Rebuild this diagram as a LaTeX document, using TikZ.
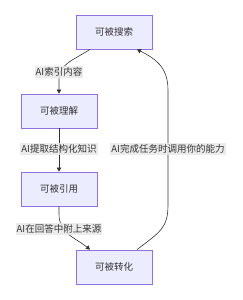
\documentclass[tikz,border=0pt]{standalone}
\usepackage{fontspec}
\setmainfont{Noto Sans CJK SC}
\usetikzlibrary{arrows.meta,calc}
\definecolor{boxfill}{HTML}{ECECFF}
\definecolor{boxline}{HTML}{9370DB}
\definecolor{txt}{HTML}{333333}
\definecolor{lblbg}{HTML}{E8E8E8}
\definecolor{edge}{HTML}{333333}
\tikzset{
  box/.style={draw=boxline, fill=boxfill, line width=0.8pt, minimum width=76pt, minimum height=34pt, inner sep=0pt, text=txt, font=\fontsize{9.5pt}{11pt}\selectfont},
  lbl/.style={fill=lblbg, fill opacity=0.85, text opacity=1, text=txt, inner xsep=1pt, inner ysep=1.5pt, font=\fontsize{9.5pt}{11pt}\selectfont},
  conn/.style={draw=edge, line width=0.6pt, -{Triangle[length=4pt,width=4.5pt]}}
}
\begin{document}
\begin{tikzpicture}[x=1pt,y=-1pt]
\useasboundingbox (0,0) rectangle (242,300);
\node[box] (s) at (114,32) {可被搜索};
\node[box] (u) at (59,111) {可被理解};
\node[box] (c) at (59,189) {可被引用};
\node[box] (t) at (114,267) {可被转化};
\coordinate (s1) at ($(s.south)+(-24,0)$);
\coordinate (s2) at ($(s.south)+(23,0)$);
\coordinate (t1) at ($(t.north)+(-24,0)$);
\coordinate (t2) at ($(t.north)+(23,0)$);
\draw[conn] (s1) .. controls (72,61) and (59,64) .. (59,80) -- (u.north);
\draw[conn] (u.south) -- (c.north);
\draw[conn] (c.south) -- (59,214) .. controls (59,234) and (76,238) .. (t1);
\draw[conn] (t2) .. controls (160,232) and (168,228) .. (168,205) -- (168,90) .. controls (168,66) and (154,58) .. (s2);
\node[lbl] at (59,72) {AI索引内容};
\node[lbl] at (59,149) {AI提取结构化知识};
\node[lbl] at (168,149) {AI完成任务时调用你的能力};
\node[lbl] at (59,229) {AI在回答中附上来源};
\end{tikzpicture}
\end{document}
